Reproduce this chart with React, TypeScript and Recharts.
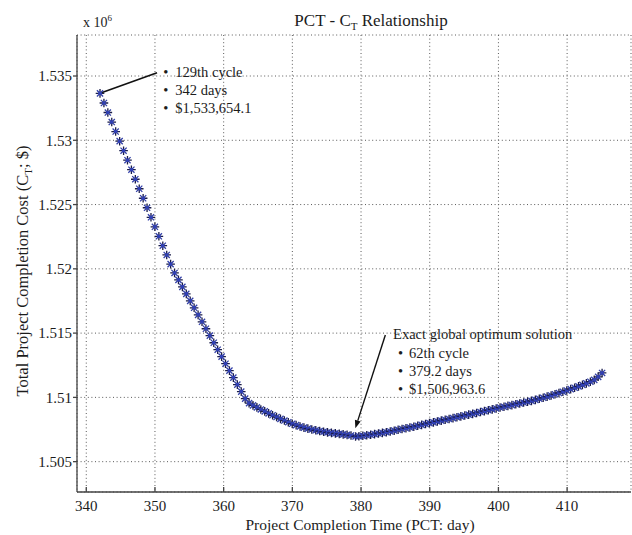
import React from 'react';
import {
  ScatterChart, Scatter, XAxis, YAxis, CartesianGrid,
  ReferenceLine, ReferenceDot,
} from 'recharts';

// project completion time (days), one point per cycle
const DAYS = [
  342.00, 342.57, 343.14, 343.71, 344.28, 344.86, 345.43, 346.00, 346.57, 347.14,
  347.71, 348.28, 348.85, 349.42, 349.99, 350.57, 351.14, 351.71, 352.28, 352.85,
  353.42, 353.99, 354.56, 355.13, 355.70, 356.28, 356.85, 357.42, 357.99, 358.56,
  359.13, 359.70, 360.27, 360.84, 361.41, 361.99, 362.56, 363.13, 363.70, 364.27,
  364.84, 365.41, 365.98, 366.55, 367.12, 367.70, 368.27, 368.84, 369.41, 369.98,
  370.55, 371.12, 371.69, 372.26, 372.83, 373.41, 373.98, 374.55, 375.12, 375.69,
  376.26, 376.83, 377.40, 377.97, 378.54, 379.20, 379.69, 380.26, 380.83, 381.40,
  381.97, 382.54, 383.11, 383.68, 384.25, 384.83, 385.40, 385.97, 386.54, 387.11,
  387.68, 388.25, 388.82, 389.39, 389.96, 390.54, 391.11, 391.68, 392.25, 392.82,
  393.39, 393.96, 394.53, 395.10, 395.67, 396.25, 396.82, 397.39, 397.96, 398.53,
  399.10, 399.67, 400.24, 400.81, 401.38, 401.96, 402.53, 403.10, 403.67, 404.24,
  404.81, 405.38, 405.95, 406.52, 407.09, 407.67, 408.24, 408.81, 409.38, 409.95,
  410.52, 411.09, 411.66, 412.23, 412.80, 413.38, 413.95, 414.52, 415.09,
];

// total cost, x 10^6 $
const COST = [
  1.53365, 1.53290, 1.53216, 1.53142, 1.53068, 1.52993, 1.52919, 1.52845, 1.52771, 1.52697,
  1.52623, 1.52549, 1.52475, 1.52401, 1.52327, 1.52253, 1.52180, 1.52108, 1.52037, 1.51968,
  1.51914, 1.51860, 1.51805, 1.51751, 1.51697, 1.51642, 1.51588, 1.51534, 1.51480, 1.51425,
  1.51371, 1.51317, 1.51262, 1.51208, 1.51154, 1.51099, 1.51045, 1.50990, 1.50955, 1.50938,
  1.50922, 1.50906, 1.50891, 1.50876, 1.50861, 1.50847, 1.50833, 1.50820, 1.50807, 1.50795,
  1.50784, 1.50774, 1.50765, 1.50757, 1.50750, 1.50744, 1.50738, 1.50733, 1.50728, 1.50724,
  1.50720, 1.50716, 1.50712, 1.50708, 1.50704, 1.50696, 1.50698, 1.50701, 1.50705, 1.50709,
  1.50714, 1.50719, 1.50724, 1.50729, 1.50735, 1.50741, 1.50748, 1.50754, 1.50760, 1.50766,
  1.50772, 1.50779, 1.50786, 1.50793, 1.50800, 1.50806, 1.50813, 1.50819, 1.50826, 1.50832,
  1.50839, 1.50846, 1.50852, 1.50859, 1.50866, 1.50872, 1.50879, 1.50886, 1.50893, 1.50900,
  1.50907, 1.50914, 1.50921, 1.50927, 1.50934, 1.50940, 1.50947, 1.50953, 1.50960, 1.50966,
  1.50973, 1.50981, 1.50989, 1.50997, 1.51006, 1.51015, 1.51024, 1.51034, 1.51044, 1.51054,
  1.51064, 1.51075, 1.51086, 1.51097, 1.51109, 1.51122, 1.51136, 1.51160, 1.51190,
];

const X_TICKS = [340, 350, 360, 370, 380, 390, 400, 410];
const Y_TICKS = [1.505, 1.51, 1.515, 1.52, 1.525, 1.53, 1.535];

const START_NOTE = ['129th cycle', '342 days', '$1,533,654.1'];
const OPT_TITLE = 'Exact global optimum solution';
const OPT_NOTE = ['62th cycle', '379.2 days', '$1,506,963.6'];

const W = 632;
const H = 535;
const FONT = 'Liberation Serif, Times New Roman, serif';
const INK = '#1c1c1c';
const AXIS = '#444';

const data = DAYS.map((d, i) => ({ x: d, y: COST[i] }));

const txt = { fontFamily: FONT, fill: INK };

function StarMark(p: any) {
  const { cx, cy } = p;
  if (cx == null || cy == null) return null;
  const r = 4.3;
  const d = 3.1;
  return (
    <g>
      <path d={`M${cx - d},${cy - d}L${cx + d},${cy + d}M${cx - d},${cy + d}L${cx + d},${cy - d}`}
        stroke="#3340a8" strokeWidth={1.3} />
      <path d={`M${cx - r},${cy}H${cx + r}M${cx},${cy - r}V${cy + r}`}
        stroke="#1b1d4a" strokeWidth={1.3} />
      <circle cx={cx} cy={cy} r={1.8} fill="#3040b8" />
    </g>
  );
}

function Arrow(p: any) {
  const { x1, y1, x2, y2 } = p;
  const ang = Math.atan2(y2 - y1, x2 - x1);
  const len = 8;
  const wing = 3;
  const bx = x2 - len * Math.cos(ang);
  const by = y2 - len * Math.sin(ang);
  const nx = -Math.sin(ang) * wing;
  const ny = Math.cos(ang) * wing;
  return (
    <g>
      <line x1={x1} y1={y1} x2={bx} y2={by} stroke="#111" strokeWidth={1.4} />
      <polygon points={`${x2},${y2} ${bx + nx},${by + ny} ${bx - nx},${by - ny}`} fill="#111" />
    </g>
  );
}

function Leader(p: any) {
  const { x1, y1, x2, y2 } = p;
  return <line x1={x1} y1={y1} x2={x2} y2={y2} stroke="#111" strokeWidth={1.6} />;
}

function StartNote(p: any) {
  const { cx, cy } = p;
  return (
    <g fontSize={14.5} style={txt}>
      {START_NOTE.map((t, i) => (
        <g key={t}>
          <text x={cx - 3} y={cy + 5 + i * 18.3} style={txt}>•</text>
          <text x={cx + 9} y={cy + 5 + i * 18.3} style={txt}>{t}</text>
        </g>
      ))}
    </g>
  );
}

function OptNote(p: any) {
  const { cx, cy } = p;
  return (
    <g fontSize={14.5} style={txt}>
      <text x={cx} y={cy} style={txt}>{OPT_TITLE}</text>
      {OPT_NOTE.map((t, i) => (
        <g key={t}>
          <text x={cx + 5} y={cy + 18.3 * (i + 1)} style={txt}>•</text>
          <text x={cx + 16} y={cy + 18.3 * (i + 1)} style={txt}>{t}</text>
        </g>
      ))}
    </g>
  );
}

const fmtY = (v: number) => String(Number(v.toFixed(3)));

const tickStyle = { fill: INK, fontSize: 15, fontFamily: FONT, style: { fontFamily: FONT } };

export default function App() {
  return (
    <div style={{ position: 'absolute', left: 0, top: 0, width: W, height: H, background: '#fff', fontFamily: FONT }}>
      <ScatterChart width={W} height={H} margin={{ top: 35, right: 1, bottom: 0, left: 0 }}>
        <CartesianGrid stroke="#5a5a5a" strokeDasharray="1 2.6" />
        <XAxis
          type="number" dataKey="x" domain={[338.65, 419.3]} ticks={X_TICKS}
          height={43} tickSize={-5} tickMargin={13}
          stroke={AXIS} strokeWidth={1.3} allowDataOverflow
          tick={tickStyle}
        />
        <XAxis
          xAxisId="top" orientation="top" type="number" domain={[338.65, 419.3]} ticks={X_TICKS}
          height={0} tickSize={-5} tick={false} stroke={AXIS} strokeWidth={1.3} allowDataOverflow
        />
        <YAxis
          type="number" dataKey="y" domain={[1.50264, 1.53819]} ticks={Y_TICKS}
          width={77} tickSize={4} tickMargin={1} tickFormatter={fmtY}
          stroke={AXIS} strokeWidth={1.3} allowDataOverflow
          tick={tickStyle}
        />
        <YAxis
          yAxisId="right" orientation="right" type="number" domain={[1.50264, 1.53819]} ticks={Y_TICKS}
          width={0} tickSize={-5} tick={false} stroke={AXIS} strokeWidth={1.3} allowDataOverflow
        />
        <Scatter data={data} shape={StarMark} isAnimationActive={false} />
        <ReferenceLine
          segment={[{ x: DAYS[0], y: COST[0] }, { x: 350.3, y: 1.53526 }]}
          shape={Leader}
        />
        <ReferenceLine
          segment={[{ x: 383.54, y: 1.51485 }, { x: 379.17, y: 1.5076 }]}
          shape={Arrow}
        />
        <ReferenceDot x={351.65} y={1.53533} r={0} shape={StartNote} />
        <ReferenceDot x={384.66} y={1.51452} r={0} shape={OptNote} />
      </ScatterChart>
      <svg width={W} height={H} style={{ position: 'absolute', left: 0, top: 0, pointerEvents: 'none', fontFamily: FONT }}
        fill={INK}>
        <text x={83} y={27} fontSize={14}>
          x 10<tspan fontSize={9} dy={-6}>6</tspan>
        </text>
        <text x={371} y={26} fontSize={17} textAnchor="middle">
          PCT - C<tspan fontSize={11} dy={4}>T</tspan><tspan dy={-4}> Relationship</tspan>
        </text>
        <text x={360} y={530} fontSize={15.5} textAnchor="middle">
          Project Completion Time (PCT: day)
        </text>
        <text x={28} y={271} fontSize={16.5} textAnchor="middle" transform="rotate(-90 28 271)">
          Total Project Completion Cost (C<tspan fontSize={11} dy={4}>T</tspan><tspan dy={-4}>; $)</tspan>
        </text>
      </svg>
    </div>
  );
}
